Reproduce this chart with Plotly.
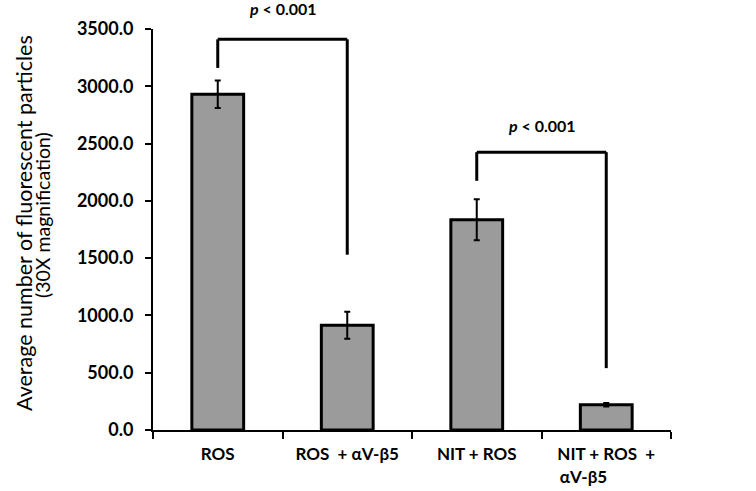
import plotly.graph_objects as go

categories = ["ROS", "ROS  + αV-β5", "NIT + ROS", "NIT + ROS  +<br>αV-β5\u00a0\u00a0\u00a0\u00a0\u00a0\u00a0\u00a0\u00a0\u00a0\u00a0\u00a0"]
means = [2930, 915, 1835, 220]
errors = [120, 118, 178, 15]
y_ticks = [0, 500, 1000, 1500, 2000, 2500, 3000, 3500]
y_max = 3500

# significance brackets: left index, right index, top, left leg bottom, right leg bottom
br_left = [0, 2]
br_right = [1, 3]
br_top = [3410, 2425]
br_left_bottom = [3160, 2175]
br_right_bottom = [1530, 540]
br_label_y = [3680, 2660]
br_label = ["<i>p</i> &lt; 0.001", "<i>p</i> &lt; 0.001"]

FONT = "Lato"
L, R, T, B = 153, 85, 29, 61
PW = 756 - L - R
PH = 491 - T - B

fig = go.Figure()
fig.add_trace(go.Bar(
    x=list(range(len(categories))),
    y=means,
    width=0.4,
    marker=dict(color="#9b9b9b", line=dict(color="black", width=3)),
    error_y=dict(type="data", array=errors, visible=True, color="black", thickness=2, width=3),
    showlegend=False,
))

shapes = []
for i in range(len(br_left)):
    l, r = br_left[i], br_right[i]
    line = dict(color="black", width=3)
    shapes.append(dict(type="line", xref="x", yref="y", x0=l, x1=r, y0=br_top[i], y1=br_top[i], line=line))
    shapes.append(dict(type="line", xref="x", yref="y", x0=l, x1=l, y0=br_left_bottom[i], y1=br_top[i], line=line))
    shapes.append(dict(type="line", xref="x", yref="y", x0=r, x1=r, y0=br_right_bottom[i], y1=br_top[i], line=line))

annotations = []
for i in range(len(br_left)):
    annotations.append(dict(
        x=((br_left[i] + br_right[i]) / 2 + 0.5) / 4, y=br_label_y[i] / y_max,
        xref="paper", yref="paper", xanchor="center", yanchor="middle",
        text=br_label[i], showarrow=False,
        font=dict(family=FONT, size=16, color="black", weight="bold"),
    ))

annotations.append(dict(x=(24 - L) / PW, y=(491 - B - 223) / PH, xref="paper", yref="paper",
                        xanchor="center", yanchor="middle",
                        text="Average number of fluorescent particles", textangle=-90,
                        showarrow=False, font=dict(family=FONT, size=21.5, color="black")))
annotations.append(dict(x=(42 - L) / PW, y=(491 - B - 215) / PH, xref="paper", yref="paper",
                        xanchor="center", yanchor="middle",
                        text="(30X magnification)", textangle=-90,
                        showarrow=False, font=dict(family=FONT, size=19.5, color="black")))

fig.update_layout(
    width=756, height=491,
    margin=dict(l=L, r=R, t=T, b=B),
    paper_bgcolor="white", plot_bgcolor="white",
    shapes=shapes, annotations=annotations,
)
fig.update_xaxes(
    range=[-0.5, 3.5], automargin=False,
    tickmode="array",
    tickvals=list(range(len(categories))),
    ticktext=categories,
    showline=True, linecolor="black", linewidth=2,
    showgrid=False, zeroline=False,
    ticks="",
    tickfont=dict(family=FONT, size=17, color="black", weight="bold"),
    ticklabelstandoff=8,
    minor=dict(tickmode="array", tickvals=[-0.5, 0.5, 1.5, 2.5, 3.5],
               ticks="outside", ticklen=7, tickwidth=2, tickcolor="black", showgrid=False),
)
fig.update_yaxes(
    range=[0, y_max], automargin=False,
    tickmode="array", tickvals=y_ticks, tickformat=".1f",
    showline=True, linecolor="black", linewidth=2,
    showgrid=False, zeroline=False,
    ticks="outside", ticklen=6, tickwidth=2, tickcolor="black",
    tickfont=dict(family=FONT, size=18, color="black", weight="bold"),
    ticklabelstandoff=8,
)

fig.write_html("out.html", config={"displayModeBar": False},
               post_script="document.body.style.margin='0';")
